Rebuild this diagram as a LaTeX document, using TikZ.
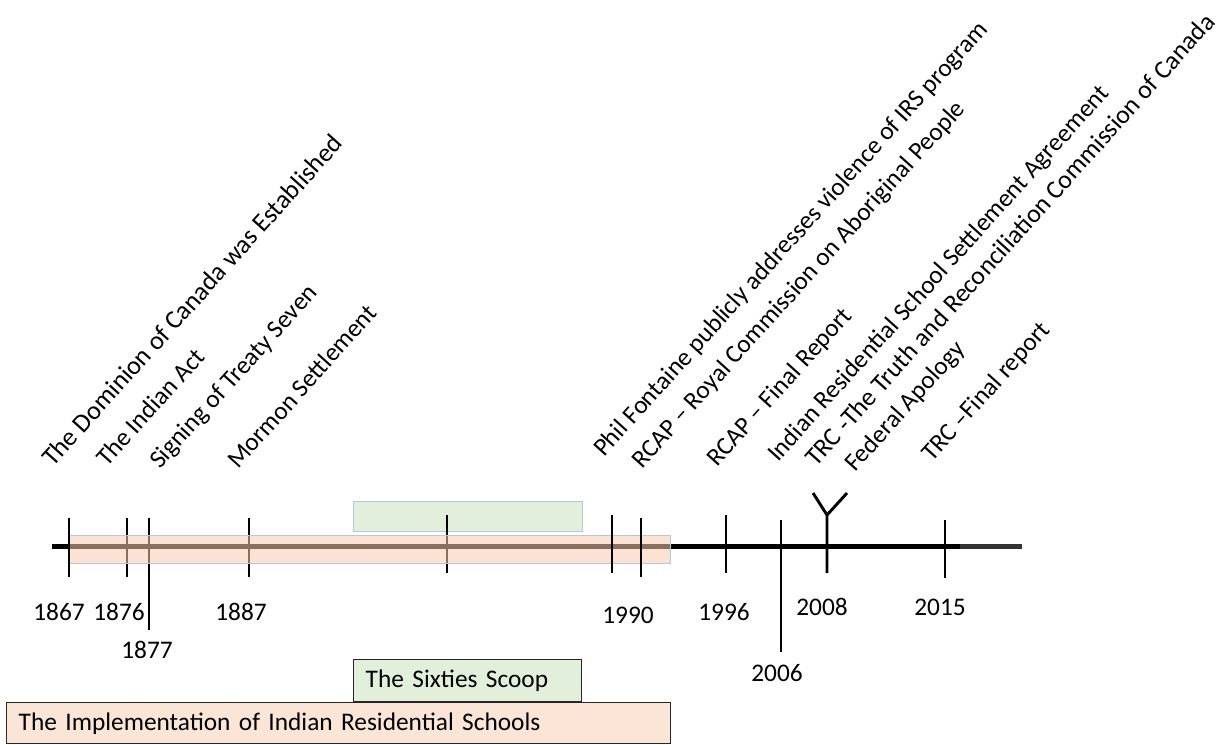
\documentclass[tikz,border=0pt]{standalone}
\usepackage{fontspec}
\setmainfont{Carlito}
\definecolor{peach}{RGB}{248,203,173}
\definecolor{peachbox}{RGB}{251,229,214}
\definecolor{sagebox}{RGB}{226,239,218}
\definecolor{edgeblue}{RGB}{180,199,231}
\begin{document}
\begin{tikzpicture}[x=0.75pt,y=-0.75pt,
	font=\fontsize{19}{22}\selectfont,
	yeartick/.style={line width=2.2pt, black},
	yearlabel/.style={inner sep=0pt},
	eventlabel/.style={rotate=48, anchor=base west, inner sep=0pt},
	periodbox/.style={draw=black!85, line width=1.1pt, anchor=north west, inner xsep=9pt, inner ysep=0pt, align=left}]
	\useasboundingbox (0,0) rectangle (1226,744);
	% periods behind the line
	\draw[edgeblue, fill=sagebox, line width=0.75pt] (353,501) rectangle (582,531);
	\draw[line width=3.75pt] (52,546) -- (960,546);
	\draw[line width=3.75pt, black!80] (960,546) -- (1022,546);
	\draw[yeartick] (127,518) -- (127,577);
	\draw[yeartick] (149,518) -- (149,630);
	\draw[yeartick] (249,518) -- (249,577);
	\draw[yeartick] (447,515) -- (447,573);
	\fill[peach, fill opacity=0.55] (69,535) rectangle (670,563);
	\draw[edgeblue, line width=0.75pt] (69,535) rectangle (670,563);
	% ticks on top
	\draw[yeartick] (69,518) -- (69,577);
	\draw[yeartick] (612,515) -- (612,573);
	\draw[yeartick] (641,518) -- (641,577);
	\draw[yeartick] (726,515) -- (726,573);
	\draw[yeartick] (781,520) -- (781,652);
	\draw[yeartick] (827,573) -- (827,515) -- (813,493) (827,515) -- (847,493);
	\draw[yeartick] (945,520) -- (945,578);

	% years
	\node[yearlabel] (y1867) at (59,612) {1867};
	\node[yearlabel] (y1876) at (119,612) {1876};
	\node[yearlabel] (y1877) at (147,650) {1877};
	\node[yearlabel] (y1887) at (241,612) {1887};
	\node[yearlabel] (y1990) at (628,615) {1990};
	\node[yearlabel] (y1996) at (724,612) {1996};
	\node[yearlabel] (y2006) at (777,673) {2006};
	\node[yearlabel] (y2008) at (822,607) {2008};
	\node[yearlabel] (y2015) at (940,607) {2015};

	% events
	\node[eventlabel, font=\fontsize{19.6}{22}\selectfont] (dominion) at (53,468) {The Dominion of Canada was Established};
	\node[eventlabel] (indianact) at (107,468) {The Indian Act};
	\node[eventlabel] (treaty) at (160,470) {Signing of Treaty Seven};
	\node[eventlabel] (mormon) at (238,470) {Mormon Settlement};
	\node[eventlabel] (fontaine) at (604,458) {Phil Fontaine publicly addresses violence of IRS program};
	\node[eventlabel] (rcap) at (642,470) {RCAP -- Royal Commission on Aboriginal People};
	\node[eventlabel] (rcapfinal) at (717,468) {RCAP -- Final Report};
	\node[eventlabel] (irssa) at (778,463) {Indian Residential School Settlement Agreement};
	\node[eventlabel, font=\fontsize{19.4}{22}\selectfont] (trc) at (816,468) {TRC -The Truth and Reconciliation Commission of Canada};
	\node[eventlabel] (apology) at (855,473) {Federal Apology};
	\node[eventlabel] (trcfinal) at (932,463) {TRC --Final report};

	% legend boxes
	\node[periodbox, fill=sagebox, text width=153pt, minimum height=31.5pt] (scoop) at (353,659) {The Sixties Scoop};
	\node[periodbox, fill=peachbox, text width=480pt, minimum height=30.75pt] (irs) at (6,702) {The Implementation of Indian Residential Schools};
\end{tikzpicture}
\end{document}
